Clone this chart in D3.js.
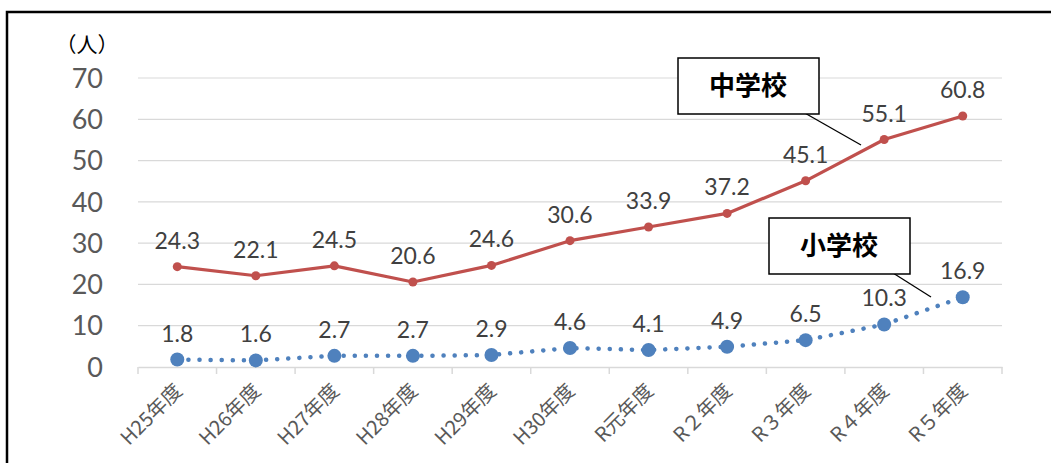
<!DOCTYPE html>
<html>
<head>
<meta charset="utf-8">
<script src="https://cdn.jsdelivr.net/npm/d3@7"></script>
<style>
  body { margin: 0; background: #fff; }
  svg { display: block; }
</style>
</head>
<body>
<div id="chart"></div>
<script>
const years = ["H25年度", "H26年度", "H27年度", "H28年度", "H29年度", "H30年度", "R元年度", "R２年度", "R３年度", "R４年度", "R５年度"];
const juniorHigh = [24.3, 22.1, 24.5, 20.6, 24.6, 30.6, 33.9, 37.2, 45.1, 55.1, 60.8];
const elementary = [1.8, 1.6, 2.7, 2.7, 2.9, 4.6, 4.1, 4.9, 6.5, 10.3, 16.9];
const yTicks = [0, 10, 20, 30, 40, 50, 60, 70];

const width = 1051, height = 463;
const margin = { left: 138, right: 49, top: 78, bottom: 96 };
const numFont = "Lato, 'Open Sans', 'Noto Sans', sans-serif";
const jpFont = "'Noto Sans CJK JP', 'Noto Sans', sans-serif";

const svg = d3.select("#chart").append("svg")
  .attr("width", width)
  .attr("height", height);

// outer frame (left + top edges)
svg.append("path")
  .attr("d", `M7,${height} L7,12 L${width},12`)
  .attr("fill", "none")
  .attr("stroke", "#000")
  .attr("stroke-width", 2.5);

const x = d3.scaleBand()
  .domain(years)
  .range([margin.left, width - margin.right]);

const y = d3.scaleLinear()
  .domain([0, 70])
  .range([height - margin.bottom, margin.top]);

// gridlines
svg.append("g")
  .selectAll("line")
  .data(yTicks.filter(d => d > 0))
  .join("line")
  .attr("x1", margin.left)
  .attr("x2", width - margin.right)
  .attr("y1", d => y(d))
  .attr("y2", d => y(d))
  .attr("stroke", "#d9d9d9")
  .attr("stroke-width", 1.2);

// y axis labels
svg.append("g")
  .selectAll("text")
  .data(yTicks)
  .join("text")
  .attr("x", 103)
  .attr("y", d => y(d))
  .attr("dy", "0.36em")
  .attr("text-anchor", "end")
  .attr("font-family", numFont)
  .attr("font-size", 27)
  .attr("fill", "#595959")
  .text(d => d);

svg.append("text")
  .attr("x", 87)
  .attr("y", 52)
  .attr("text-anchor", "middle")
  .attr("font-family", jpFont)
  .attr("font-size", 21)
  .attr("fill", "#000")
  .text("（人）");

// x axis
const xAxis = svg.append("g")
  .attr("transform", `translate(0,${y(0)})`)
  .call(d3.axisBottom(x).tickSize(0).tickFormat(""));
xAxis.select(".domain").attr("stroke", "#d9d9d9").attr("stroke-width", 1.5);

const edges = years.map(d => x(d)).concat([x.range()[1]]);
svg.append("g")
  .selectAll("line")
  .data(edges)
  .join("line")
  .attr("x1", d => d).attr("x2", d => d)
  .attr("y1", y(0)).attr("y2", y(0) + 7)
  .attr("stroke", "#d9d9d9")
  .attr("stroke-width", 1.5);

svg.append("g")
  .selectAll("text")
  .data(years)
  .join("text")
  .attr("transform", d => `translate(${x(d) + x.bandwidth() / 2 + 6},${y(0) + 25}) rotate(-45)`)
  .attr("text-anchor", "end")
  .attr("font-family", jpFont)
  .attr("font-size", 20)
  .attr("fill", "#595959")
  .text(d => d);

const cx = (d, i) => x(years[i]) + x.bandwidth() / 2;

// junior high line
const line = d3.line().x((d, i) => cx(d, i)).y(d => y(d));

svg.append("path")
  .datum(juniorHigh)
  .attr("d", line)
  .attr("fill", "none")
  .attr("stroke", "#C0504D")
  .attr("stroke-width", 3.2)
  .attr("stroke-linejoin", "round");

svg.append("g")
  .selectAll("circle")
  .data(juniorHigh)
  .join("circle")
  .attr("cx", cx)
  .attr("cy", d => y(d))
  .attr("r", 4.5)
  .attr("fill", "#C0504D");

// elementary dotted line
svg.append("path")
  .datum(elementary)
  .attr("d", line)
  .attr("fill", "none")
  .attr("stroke", "#4F81BD")
  .attr("stroke-width", 4.5)
  .attr("stroke-linecap", "round")
  .attr("stroke-dasharray", "0.1 11");

svg.append("g")
  .selectAll("circle")
  .data(elementary)
  .join("circle")
  .attr("cx", cx)
  .attr("cy", d => y(d))
  .attr("r", 7)
  .attr("fill", "#4F81BD");

// data labels
function labels(data) {
  svg.append("g")
    .selectAll("text")
    .data(data)
    .join("text")
    .attr("x", cx)
    .attr("y", d => y(d) - 18)
    .attr("text-anchor", "middle")
    .attr("font-family", numFont)
    .attr("font-size", 23)
    .attr("fill", "#404040")
    .text(d => d.toFixed(1));
}
labels(juniorHigh);
labels(elementary);

// callouts
function callout(text, bx, by, lx1, ly1, lx2, ly2) {
  svg.append("line")
    .attr("x1", lx1).attr("y1", ly1)
    .attr("x2", lx2).attr("y2", ly2)
    .attr("stroke", "#000").attr("stroke-width", 1.3);
  svg.append("rect")
    .attr("x", bx).attr("y", by)
    .attr("width", 141).attr("height", 56)
    .attr("fill", "#fff")
    .attr("stroke", "#000")
    .attr("stroke-width", 1.5);
  svg.append("text")
    .attr("x", bx + 70).attr("y", by + 28)
    .attr("dy", "0.36em")
    .attr("text-anchor", "middle")
    .attr("font-family", jpFont)
    .attr("font-weight", "bold")
    .attr("font-size", 26)
    .attr("fill", "#000")
    .text(text);
}
callout("中学校", 678, 58, 803, 112, 861, 145);
callout("小学校", 769, 218, 893, 273, 931, 297);
</script>
</body>
</html>
